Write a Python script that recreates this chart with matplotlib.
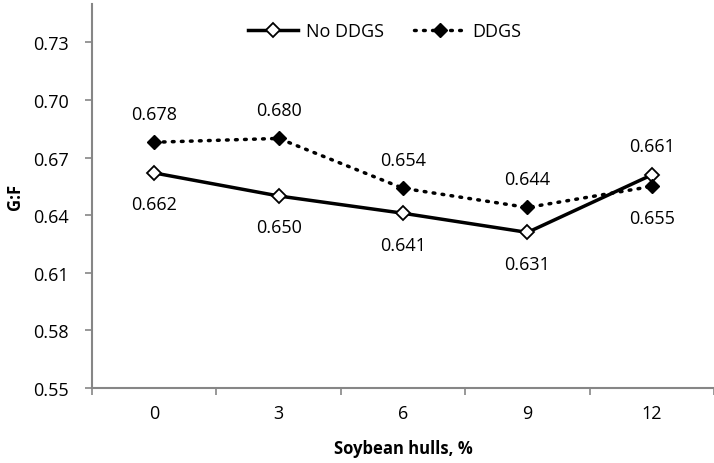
import matplotlib.pyplot as plt

plt.rcParams["font.family"] = ["Open Sans", "DejaVu Sans"]

# Values
hulls = ["0", "3", "6", "9", "12"]
no_ddgs = [0.662, 0.650, 0.641, 0.631, 0.661]
ddgs = [0.678, 0.680, 0.654, 0.644, 0.655]
y_ticks = [0.55, 0.58, 0.61, 0.64, 0.67, 0.70, 0.73]

fs = 13

fig = plt.figure(figsize=(7.14, 4.64), dpi=100)
ax = fig.add_axes([0.129, 0.162, 0.871, 0.827])

x = list(range(len(hulls)))
ax.plot(x, no_ddgs, color="black", linewidth=2.5, marker="D", markersize=7,
        markerfacecolor="white", markeredgecolor="black", markeredgewidth=1.3,
        label="No DDGS", zorder=3)
ax.plot(x, ddgs, color="black", linewidth=2.5, linestyle=(0, (0.5, 2.1)),
        dash_capstyle="round", marker="D", markersize=7,
        markerfacecolor="black", markeredgecolor="black", label="DDGS", zorder=4)

# value labels: No DDGS below, DDGS above, except the last point where they swap
for i in x:
    below, above = -29, 14
    if i == len(x) - 1:
        nd_off, d_off = above, below
    else:
        nd_off, d_off = below, above
    ax.annotate(f"{no_ddgs[i]:.3f}", (i, no_ddgs[i]), xytext=(0, nd_off),
                textcoords="offset points", ha="center", va="bottom", fontsize=fs)
    ax.annotate(f"{ddgs[i]:.3f}", (i, ddgs[i]), xytext=(0, d_off),
                textcoords="offset points", ha="center", va="bottom", fontsize=fs)

ax.set_xlim(-0.5, len(x) - 0.5)
ax.set_ylim(0.55, 0.75)
ax.set_yticks(y_ticks)
ax.set_yticklabels([f"{v:.2f}" for v in y_ticks])
ax.set_xticks(x)
ax.set_xticklabels(hulls)
ax.tick_params(axis="x", length=0, pad=12, labelsize=fs)
ax.set_xticks([i - 0.5 for i in range(len(x) + 1)], minor=True)
ax.tick_params(axis="x", which="minor", length=5, color="#868686", width=1.2)
ax.tick_params(axis="y", length=5, color="#868686", width=1.2, pad=12, labelsize=fs)

for side in ["top", "right"]:
    ax.spines[side].set_visible(False)
for side in ["left", "bottom"]:
    ax.spines[side].set_color("#868686")
    ax.spines[side].set_linewidth(1.5)

ax.set_xlabel("Soybean hulls, %", fontsize=12, fontweight="bold", labelpad=12)
ax.set_ylabel("G:F", fontsize=12, fontweight="bold", labelpad=6)

ax.legend(loc="upper center", bbox_to_anchor=(0.47, 0.995), ncol=2, frameon=False,
          fontsize=fs, handlelength=2.8, columnspacing=1.7, handletextpad=0.4)

fig.savefig("out.png", dpi=100)
